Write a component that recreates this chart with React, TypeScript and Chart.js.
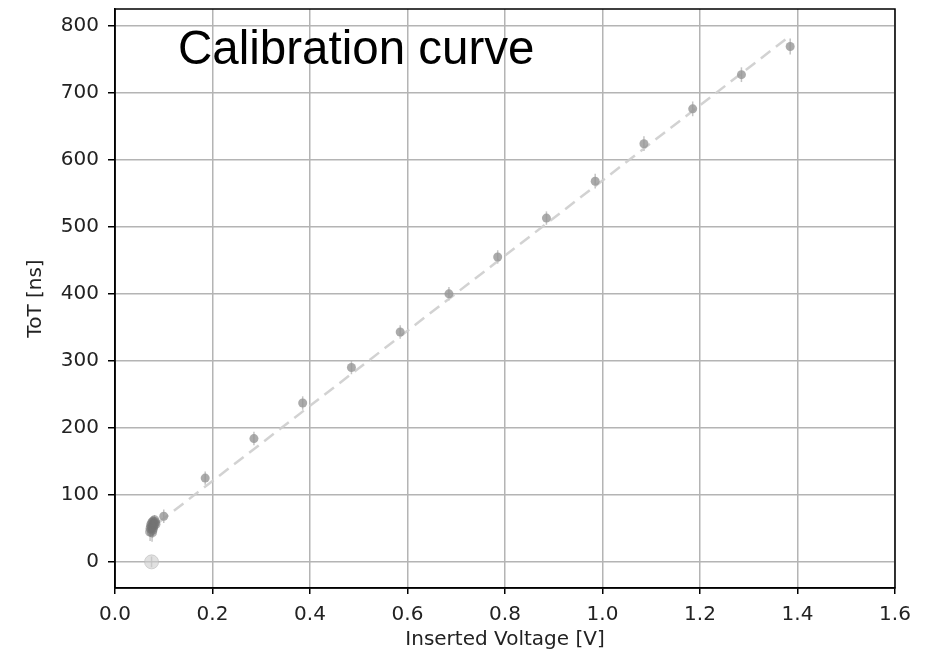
import React, { useEffect, useRef } from "react";
import { Chart, registerables } from "chart.js";

Chart.register(...registerables);

// Calibration measurements: inserted voltage [V] vs. time over threshold [ns]
const voltage = [0.1, 0.185, 0.285, 0.385, 0.485, 0.585, 0.685, 0.785, 0.885, 0.985, 1.085, 1.185, 1.285, 1.385];
const tot = [68, 125, 184, 237, 290, 343, 400, 455, 513, 568, 624, 676, 727, 769];
const totErr = [10, 10, 10, 10, 10, 10, 10, 10, 10, 11, 11, 11, 11, 12];

// Low-voltage cluster near threshold
const clusterVoltage = [0.072, 0.073, 0.074, 0.075, 0.076, 0.077, 0.078, 0.079, 0.08, 0.081, 0.082, 0.083, 0.076, 0.078];
const clusterTot = [45, 50, 55, 52, 58, 48, 60, 54, 57, 62, 59, 56, 44, 51];
const clusterErr = [14, 12, 10, 10, 10, 12, 8, 10, 8, 8, 8, 8, 14, 12];

// Point below threshold
const zeroVoltage = [0.075];
const zeroTot = [0];
const zeroErr = [8];

// Linear fit endpoints
const fitVoltage = [0.09, 1.385];
const fitTot = [59, 785];

const xTicks = [0, 0.2, 0.4, 0.6, 0.8, 1.0, 1.2, 1.4, 1.6];
const yTicks = [0, 100, 200, 300, 400, 500, 600, 700, 800];

const titleText = "Calibration curve";
const xLabel = "Inserted Voltage [V]";
const yLabel = "ToT [ns]";

const pts = (xs: number[], ys: number[]) => xs.map((x, i) => ({ x, y: ys[i] }));

const errorSets: { idx: number; errs: number[] }[] = [
  { idx: 1, errs: zeroErr },
  { idx: 2, errs: clusterErr },
  { idx: 3, errs: totErr },
];

const errorBarPlugin = {
  id: "errorBars",
  beforeDatasetsDraw(chart: any) {
    const { ctx, scales } = chart;
    ctx.save();
    ctx.strokeStyle = "rgba(175,175,175,0.75)";
    ctx.lineWidth = 1.5;
    errorSets.forEach(({ idx, errs }) => {
      const data = chart.data.datasets[idx].data as { x: number; y: number }[];
      data.forEach((p, i) => {
        const px = scales.x.getPixelForValue(p.x);
        const y1 = scales.y.getPixelForValue(p.y - errs[i]);
        const y2 = scales.y.getPixelForValue(p.y + errs[i]);
        ctx.beginPath();
        ctx.moveTo(px, y1);
        ctx.lineTo(px, y2);
        ctx.stroke();
      });
    });
    ctx.restore();
  },
};

const framePlugin = {
  id: "frameAndTitle",
  afterDraw(chart: any) {
    const { ctx, chartArea } = chart;
    ctx.save();
    ctx.strokeStyle = "#000";
    ctx.lineWidth = 1.5;
    ctx.strokeRect(chartArea.left, chartArea.top, chartArea.right - chartArea.left, chartArea.bottom - chartArea.top);
    ctx.fillStyle = "#000";
    ctx.font = '47.5px "Liberation Sans", Arial, sans-serif';
    ctx.textBaseline = "alphabetic";
    ctx.textAlign = "left";
    ctx.fillText(titleText, chartArea.left + 63, chartArea.top + 55);
    ctx.restore();
  },
};

export default function App() {
  const ref = useRef<HTMLCanvasElement | null>(null);

  useEffect(() => {
    if (!ref.current) return;
    const tickFont = { family: '"DejaVu Sans", sans-serif', size: 20 };
    const chart = new Chart(ref.current, {
      type: "scatter",
      data: {
        datasets: [
          {
            type: "line",
            data: pts(fitVoltage, fitTot),
            borderColor: "rgba(205,205,205,0.9)",
            borderWidth: 2.5,
            borderDash: [12, 7],
            pointRadius: 0,
            fill: false,
            order: 5,
          } as any,
          {
            data: pts(zeroVoltage, zeroTot),
            backgroundColor: "rgba(205,205,205,0.6)",
            borderColor: "rgba(185,185,185,0.6)",
            borderWidth: 1,
            pointRadius: 7,
          },
          {
            data: pts(clusterVoltage, clusterTot),
            backgroundColor: "rgba(115,115,115,0.55)",
            borderWidth: 0,
            pointRadius: 5,
          },
          {
            data: pts(voltage, tot),
            backgroundColor: "rgba(150,150,150,0.8)",
            borderWidth: 0,
            pointRadius: 4.5,
          },
        ],
      },
      options: {
        responsive: false,
        animation: false,
        events: [],
        layout: { padding: { top: 9, right: 35, left: 0, bottom: 0 } },
        plugins: { legend: { display: false }, tooltip: { enabled: false } },
        scales: {
          x: {
            type: "linear",
            min: 0,
            max: 1.6,
            afterBuildTicks: (s: any) => {
              s.ticks = xTicks.map((v) => ({ value: v }));
            },
            afterFit: (s: any) => {
              s.height = 67;
              s.paddingLeft = 0;
              s.paddingRight = 0;
            },
            ticks: {
              autoSkip: false,
              maxRotation: 0,
              padding: 9,
              color: "#222",
              font: tickFont,
              callback: (v: any) => Number(v).toFixed(1),
            },
            grid: { color: "#b4b4b4", lineWidth: 1.5, tickLength: 6, tickColor: "#000", tickWidth: 1.5 },
            border: { color: "#000", width: 1.5 },
            title: { display: true, text: xLabel, color: "#222", font: tickFont, padding: { top: 0, bottom: 3 } },
          },
          y: {
            type: "linear",
            min: -39,
            max: 825,
            afterBuildTicks: (s: any) => {
              s.ticks = yTicks.map((v) => ({ value: v }));
            },
            afterFit: (s: any) => {
              s.width = 115;
              s.paddingTop = 0;
              s.paddingBottom = 0;
            },
            ticks: { autoSkip: false, padding: 9, color: "#222", font: tickFont },
            grid: { color: "#b4b4b4", lineWidth: 1.5, tickLength: 7, tickColor: "#000", tickWidth: 1.5 },
            border: { color: "#000", width: 1.5 },
            title: { display: true, text: yLabel, color: "#222", font: tickFont, padding: { top: 24, bottom: 0 } },
          },
        },
      },
      plugins: [errorBarPlugin, framePlugin],
    });
    return () => chart.destroy();
  }, []);

  return (
    <div style={{ position: "fixed", left: 0, top: 0, width: 930, height: 655, background: "#fff" }}>
      <canvas ref={ref} width={930} height={655} />
    </div>
  );
}
